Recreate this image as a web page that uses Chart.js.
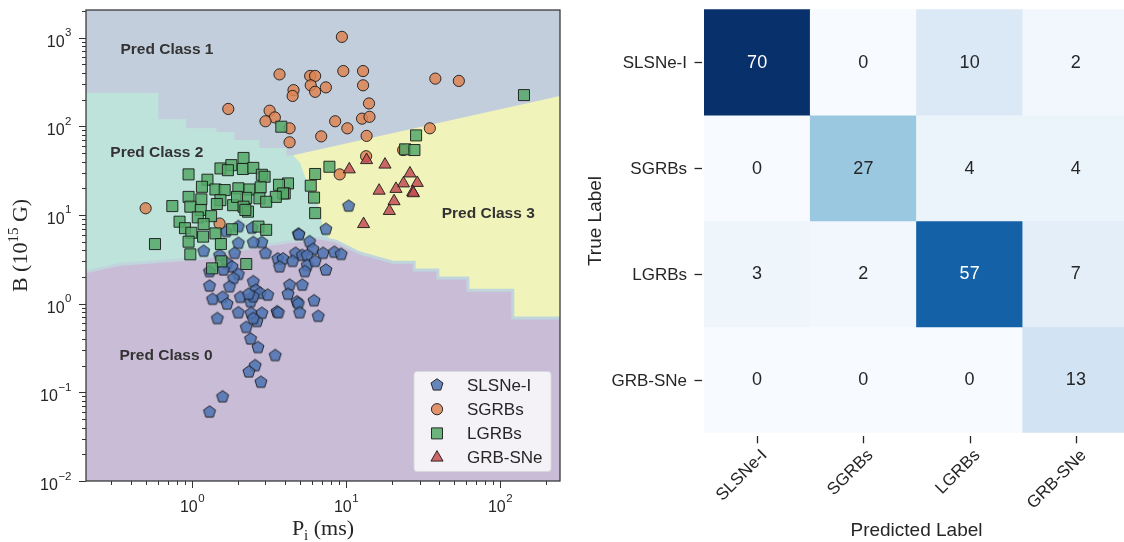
<!DOCTYPE html>
<html>
<head>
<meta charset="utf-8">
<script src="https://cdn.jsdelivr.net/npm/chart.js@4.4.1/dist/chart.umd.min.js"></script>
<style>
  html, body { margin: 0; padding: 0; background: #fff; overflow: hidden; }
  #wrap { position: relative; width: 1124px; height: 542px; overflow: hidden; }
  #left { position: absolute; left: 0; top: 0; }
  #right { position: absolute; left: 580px; top: 0; }
</style>
</head>
<body>
<div id="wrap">
  <canvas id="left" width="580" height="542"></canvas>
  <canvas id="right" width="560" height="542"></canvas>
</div>
<script>
// ---- data ----
const classNames = ["SLSNe-I", "SGRBs", "LGRBs", "GRB-SNe"];

// left panel, [P_i (ms), B (1e15 G)]
const slsnePoints = [
  [10.4, 12.6], [7.4, 6.9], [4.9, 6.1], [4.95, 6.0], [5.8, 5.0], [6.1, 4.1], [7.1, 3.7], [8.4, 3.8],
  [9.3, 3.6], [7.4, 2.4], [4.7, 3.7], [5.2, 3.5], [5.6, 3.5], [3.6, 3.2], [3.9, 3.2], [3.7, 2.6],
  [4.5, 3.0], [5.6, 2.7], [6.3, 3.0], [5.4, 2.3], [3.0, 3.7], [2.84, 4.9], [2.5, 4.9], [2.0, 4.8],
  [1.89, 3.7], [1.19, 3.9], [1.51, 3.5], [1.69, 2.85], [1.82, 2.6], [1.6, 2.4], [2.0, 2.14], [1.86, 1.93],
  [1.3, 1.58], [1.75, 1.55], [2.5, 1.77], [2.6, 1.42], [2.77, 1.31], [3.1, 1.25], [4.3, 1.62], [5.2, 1.62],
  [4.2, 1.28], [4.8, 1.05], [4.9, 1.0], [6.2, 1.08], [1.36, 1.12], [1.58, 1.18], [1.69, 0.99], [2.06, 1.18],
  [2.4, 1.05], [2.5, 1.2], [2.33, 1.28], [2.0, 0.79], [2.42, 0.78], [2.84, 0.78], [2.64, 0.63], [2.5, 0.68],
  [3.56, 0.81], [3.64, 0.79], [5.0, 0.79], [6.6, 0.72], [1.46, 0.68], [2.25, 0.54], [2.4, 0.4], [2.68, 0.32],
  [3.47, 0.26], [2.57, 0.2], [2.34, 0.17], [2.8, 0.13], [1.58, 0.089], [1.3, 0.06], [2.0, 7.4], [2.45, 7.1],
  [1.67, 6.5], [1.3, 2.3]
];
const sgrbPoints = [
  [9.4, 1020], [9.6, 420], [12.9, 420], [12.9, 290], [38, 345], [54, 325], [5.85, 370], [6.3, 370],
  [5.9, 290], [6.3, 245], [7.4, 275], [4.56, 256], [4.5, 220], [3.7, 385], [14.1, 181], [12.7, 122],
  [14.2, 128], [8.5, 114], [10.2, 95], [6.9, 77], [13.6, 78], [4.3, 95], [4.3, 66], [35, 95],
  [23.5, 54], [13.5, 46], [9.1, 28.7], [1.72, 157], [3.19, 150], [3.45, 126], [3.0, 114], [0.5, 11.9],
  [1.51, 8.0]
];
const lgrbPoints = [
  [143, 225], [28.5, 79], [24.2, 55], [27.8, 54], [7.8, 35], [6.3, 29], [5.9, 21.4], [6.2, 15.7],
  [6.3, 10.5], [4.2, 22.7], [4.0, 17.5], [3.8, 99], [2.16, 44], [1.8, 36.5], [2.14, 33], [2.5, 34],
  [1.53, 33.5], [1.71, 32], [0.95, 28.7], [1.26, 25], [2.84, 28.4], [2.96, 27], [3.67, 21.9], [3.9, 17.5],
  [3.5, 16], [1.16, 20.8], [1.42, 19.4], [1.63, 19.1], [2.0, 20], [2.36, 19.4], [2.79, 20.5], [0.95, 16],
  [1.15, 15], [1.53, 14.7], [1.85, 12.9], [2.25, 15.6], [2.74, 15.4], [3.03, 14.1], [1.96, 16], [0.745, 12.6],
  [0.975, 12.4], [1.14, 11.4], [1.45, 13.3], [2.16, 12.4], [2.31, 10.9], [0.83, 8.4], [0.9, 7.1], [1.33, 9.7],
  [1.09, 9.4], [1.19, 7.9], [1.82, 6.9], [2.7, 7.4], [3.03, 6.8], [1.42, 6.2], [1.18, 5.7], [0.99, 6.3],
  [0.575, 4.7], [2.22, 11.4], [0.95, 5.0], [0.975, 3.6], [1.54, 4.7], [1.55, 3.0], [2.25, 2.8], [1.35, 2.5]
];
const grbsnePoints = [
  [13.6, 41.6], [10.5, 32.7], [17.9, 37], [26, 29.4], [23.6, 22.7], [29, 23], [16.4, 18.8],
  [21.1, 19.7], [27.1, 18.1], [27.4, 17.6], [20.5, 14.3], [19.1, 11.1], [13, 7.9]
];

// upper edges of the predicted-class regions (class 1 fills the rest)
const class3Edge = [[4.54, 47.3], [250, 222]];
const class2Edge = [
  [0.2, 237], [0.605, 237], [0.605, 120], [0.918, 120], [0.918, 95], [1.44, 95], [1.44, 86],
  [1.88, 86], [1.88, 70], [2.73, 70], [2.73, 57], [4.09, 57], [4.09, 47], [4.54, 47],
  [5.04, 38.5], [5.43, 26.7], [6.5, 14.7], [7.1, 7.3], [7.89, 5.2], [7.89, 0.01]
];
const class0Edge = [
  [0.2, 2.27], [0.343, 2.79], [1.18, 3.26], [2.5, 4.35], [4.15, 4.95], [6.79, 5.49], [8.63, 5.08],
  [12.3, 3.72], [20.2, 2.94], [27.7, 2.94], [27.7, 2.39], [39.5, 2.39], [39.5, 1.95], [61.9, 1.95],
  [61.9, 1.42], [121, 1.42], [121, 0.69], [250, 0.69]
];
const regionLabels = [
  ["Pred Class 1", 0.343, 733], ["Pred Class 2", 0.295, 50.6],
  ["Pred Class 3", 41.8, 10.4], ["Pred Class 0", 0.338, 0.26]
];
const xExponents = [0, 1, 2];
const yExponents = [-2, -1, 0, 1, 2, 3];

// right panel
const trueLabels = classNames;
const predictedLabels = classNames;
const confusion = [
  [70, 0, 10, 2],
  [0, 27, 4, 4],
  [3, 2, 57, 7],
  [0, 0, 0, 13]
];

// ---- styles ----
const SANS = '"Liberation Sans", Arial, sans-serif';
const SERIF = '"Liberation Serif", "Times New Roman", serif';
const INK = "#262626";
const REGION = ["#c8bcd6", "#c3cedd", "#bee3db", "#f1f4ba"];
const EDGE = "rgba(25,25,25,0.9)";
const MARK = {
  blue: "rgba(76,114,176,0.85)",
  orange: "rgba(221,132,82,0.85)",
  green: "rgba(85,168,104,0.85)",
  red: "rgba(196,78,82,0.85)"
};

function pentagon(fill, edge) {
  const c = document.createElement("canvas");
  c.width = c.height = 16;
  const g = c.getContext("2d");
  const R = 6.3;
  g.beginPath();
  for (let i = 0; i < 5; i++) {
    const t = -Math.PI / 2 + i * 2 * Math.PI / 5;
    g[i ? "lineTo" : "moveTo"](8 + R * Math.cos(t), 8 + R * Math.sin(t));
  }
  g.closePath();
  g.fillStyle = fill; g.fill();
  g.strokeStyle = edge; g.lineWidth = 1; g.stroke();
  return c;
}
const pentImg = pentagon(MARK.blue, EDGE);

const markStyles = [
  { pointStyle: pentImg, radius: 6.3, bg: MARK.blue },
  { pointStyle: "circle", radius: 5.6, bg: MARK.orange },
  { pointStyle: "rect", radius: 7.8, bg: MARK.green },
  { pointStyle: "triangle", radius: 7, bg: MARK.red }
];
const pts = (arr) => arr.map(([x, y]) => ({ x, y }));

function line(ctx, x1, y1, x2, y2) {
  ctx.beginPath(); ctx.moveTo(x1, y1); ctx.lineTo(x2, y2); ctx.stroke();
}

// "10" with a raised exponent, like mathtext
function powLabel(ctx, exp, x, y, align) {
  const e = exp < 0 ? "\u2212" + (-exp) : String(exp);
  ctx.font = "16px " + SANS; const w1 = ctx.measureText("10").width;
  ctx.font = "11.5px " + SANS; const w2 = ctx.measureText(e).width;
  const x0 = align === "center" ? x - (w1 + w2) / 2 : x - w1 - w2 - 0.5;
  ctx.textAlign = "left"; ctx.textBaseline = "alphabetic";
  ctx.font = "16px " + SANS; ctx.fillText("10", x0, y);
  ctx.font = "11.5px " + SANS; ctx.fillText(e, x0 + w1 + 0.5, y - 10.5);
}

// pieces: [text, size, dy]
function mixedText(ctx, parts, cx, y, family) {
  let w = 0;
  parts.forEach(([t, s]) => { ctx.font = s + "px " + family; w += ctx.measureText(t).width; });
  let x = cx - w / 2;
  ctx.textAlign = "left"; ctx.textBaseline = "alphabetic";
  parts.forEach(([t, s, dy]) => {
    ctx.font = s + "px " + family;
    ctx.fillText(t, x, y + dy);
    x += ctx.measureText(t).width;
  });
}

const leftAxes = {
  id: "leftAxes",
  beforeDraw(chart) {
    const { ctx, chartArea: a } = chart;
    ctx.save();
    ctx.fillStyle = REGION[1];
    ctx.fillRect(a.left, a.top, a.right - a.left, a.bottom - a.top);
    ctx.restore();
  },
  afterDatasetsDraw(chart) {
    const { ctx, scales: { x, y } } = chart;
    ctx.save();
    ctx.fillStyle = "#333";
    ctx.font = "bold 15.5px " + SANS;
    ctx.textAlign = "left"; ctx.textBaseline = "middle";
    regionLabels.forEach(([t, px, py]) => ctx.fillText(t, x.getPixelForValue(px), y.getPixelForValue(py)));

    // legend
    const lx = 414, ly = 371.5, lw = 137, lh = 100;
    ctx.beginPath();
    ctx.roundRect(lx, ly, lw, lh, 3);
    ctx.fillStyle = "rgba(255,255,255,0.8)"; ctx.fill();
    ctx.strokeStyle = "rgba(215,215,220,0.9)"; ctx.lineWidth = 1; ctx.stroke();
    classNames.forEach((name, i) => {
      const cy = ly + 13.5 + i * 24.2;
      const m = markStyles[i];
      ctx.fillStyle = m.bg; ctx.strokeStyle = EDGE; ctx.lineWidth = 1;
      Chart.helpers.drawPoint(ctx, { pointStyle: m.pointStyle, radius: m.radius, rotation: 0, borderWidth: 1 }, 437, cy);
      ctx.fillStyle = INK; ctx.font = "17px " + SANS;
      ctx.textAlign = "left"; ctx.textBaseline = "middle";
      ctx.fillText(name, 467, cy + 1);
    });
    ctx.restore();
  },
  afterDraw(chart) {
    const { ctx, chartArea: a, scales: { x, y } } = chart;
    ctx.save();
    ctx.strokeStyle = "#333"; ctx.lineWidth = 1.25;
    ctx.strokeRect(a.left, a.top, a.right - a.left, a.bottom - a.top);

    ctx.lineWidth = 1;
    for (let e = Math.floor(Math.log10(x.min)); e <= Math.ceil(Math.log10(x.max)); e++) {
      for (let k = 1; k <= 9; k++) {
        const v = k * Math.pow(10, e);
        if (v < x.min || v > x.max) continue;
        const px = Math.round(x.getPixelForValue(v)) + 0.5;
        line(ctx, px, a.bottom, px, a.bottom + (k === 1 ? 7 : 4));
      }
    }
    for (let e = Math.floor(Math.log10(y.min)); e <= Math.ceil(Math.log10(y.max)); e++) {
      for (let k = 1; k <= 9; k++) {
        const v = k * Math.pow(10, e);
        if (v < y.min || v > y.max) continue;
        const py = Math.round(y.getPixelForValue(v)) + 0.5;
        line(ctx, a.left, py, a.left - (k === 1 ? 7 : 4), py);
      }
    }

    ctx.fillStyle = INK;
    xExponents.forEach(e => powLabel(ctx, e, x.getPixelForValue(Math.pow(10, e)), a.bottom + 31, "center"));
    yExponents.forEach(e => powLabel(ctx, e, a.left - 14.5, y.getPixelForValue(Math.pow(10, e)) + 9, "right"));

    mixedText(ctx, [["P", 22, 0], ["i", 15, 4.5], [" (ms)", 22, 0]], (a.left + a.right) / 2, 535, SERIF);
    ctx.save();
    ctx.translate(27, (a.top + a.bottom) / 2);
    ctx.rotate(-Math.PI / 2);
    mixedText(ctx, [["B (10", 22, 0], ["15", 15, -9], [" G)", 22, 0]], 0, 0, SERIF);
    ctx.restore();
    ctx.restore();
  }
};

new Chart(document.getElementById("left"), {
  type: "scatter",
  data: {
    datasets: [
      { type: "line", data: pts(class3Edge), fill: "start", backgroundColor: REGION[3], borderWidth: 0, pointRadius: 0, order: 30 },
      { type: "line", data: pts(class2Edge), fill: "start", backgroundColor: REGION[2], borderWidth: 0, pointRadius: 0, order: 20 },
      { type: "line", data: pts(class0Edge), fill: "start", backgroundColor: REGION[0], borderColor: "#c0d6dc", borderWidth: 3, pointRadius: 0, order: 10 },
      { label: classNames[0], data: pts(slsnePoints), pointStyle: pentImg, pointRadius: 6.3, order: 4 },
      { label: classNames[1], data: pts(sgrbPoints), pointStyle: "circle", pointRadius: 5.6, backgroundColor: MARK.orange, borderColor: EDGE, borderWidth: 1, order: 3 },
      { label: classNames[2], data: pts(lgrbPoints), pointStyle: "rect", pointRadius: 7.8, backgroundColor: MARK.green, borderColor: EDGE, borderWidth: 1, order: 2 },
      { label: classNames[3], data: pts(grbsnePoints), pointStyle: "triangle", pointRadius: 7, backgroundColor: MARK.red, borderColor: EDGE, borderWidth: 1, order: 1 }
    ]
  },
  options: {
    responsive: false,
    animation: false,
    events: [],
    layout: { padding: { left: 86, right: 20, top: 10, bottom: 61 } },
    elements: { line: { tension: 0 } },
    scales: {
      x: { type: "logarithmic", min: 0.205, max: 245, display: false },
      y: { type: "logarithmic", min: 0.01, max: 2050, display: false }
    },
    plugins: { legend: { display: false }, tooltip: { enabled: false } }
  },
  plugins: [leftAxes]
});

// ---- confusion matrix ----
const BLUES = ["#f7fbff", "#deebf7", "#c6dbef", "#9ecae1", "#6baed6", "#4292c6", "#2171b5", "#08519c", "#08306b"];
const hexRgb = h => [1, 3, 5].map(i => parseInt(h.slice(i, i + 2), 16));
function blues(t) {
  const s = Math.min(Math.max(t, 0), 1) * 8;
  const i = Math.min(Math.floor(s), 7), f = s - i;
  const a = hexRgb(BLUES[i]), b = hexRgb(BLUES[i + 1]);
  return a.map((v, k) => Math.round(v + (b[k] - v) * f));
}
const rgbStr = c => `rgb(${c[0]},${c[1]},${c[2]})`;
function luminance(c) {
  const l = c.map(v => { v /= 255; return v <= 0.03928 ? v / 12.92 : Math.pow((v + 0.055) / 1.055, 2.4); });
  return 0.2126 * l[0] + 0.7152 * l[1] + 0.0722 * l[2];
}
const maxCount = Math.max(...confusion.flat());

const heatText = {
  id: "heatText",
  afterDraw(chart) {
    const { ctx, chartArea: a, scales: { x, y } } = chart;
    ctx.save();
    ctx.textAlign = "center"; ctx.textBaseline = "middle";
    ctx.font = "18px " + SANS;
    confusion.forEach((row, r) => row.forEach((v, c) => {
      ctx.fillStyle = luminance(blues(v / maxCount)) > 0.408 ? INK : "#ffffff";
      ctx.fillText(String(v), x.getPixelForValue(c), y.getPixelForValue(r) + 0.5);
    }));

    ctx.strokeStyle = INK; ctx.lineWidth = 1.3; ctx.fillStyle = INK;
    ctx.font = "17px " + SANS;
    trueLabels.forEach((t, r) => {
      const py = Math.round(y.getPixelForValue(r)) + 0.5;
      line(ctx, a.left - 9.5, py, a.left - 2, py);
      ctx.textAlign = "right"; ctx.textBaseline = "middle";
      ctx.fillText(t, a.left - 17, py + 0.5);
    });
    predictedLabels.forEach((t, c) => {
      const px = Math.round(x.getPixelForValue(c)) + 0.5;
      line(ctx, px, a.bottom + 3.3, px, a.bottom + 10.6);
      ctx.save();
      ctx.translate(px + 1, a.bottom + 14);
      ctx.rotate(-Math.PI / 4);
      ctx.textAlign = "right"; ctx.textBaseline = "top";
      ctx.fillText(t, 0, 0);
      ctx.restore();
    });

    ctx.font = "19px " + SANS;
    ctx.textAlign = "center"; ctx.textBaseline = "alphabetic";
    ctx.fillText("Predicted Label", (a.left + a.right) / 2, 536);
    ctx.save();
    ctx.translate(21, (a.top + a.bottom) / 2);
    ctx.rotate(-Math.PI / 2);
    ctx.fillText("True Label", 0, 0);
    ctx.restore();
    ctx.restore();
  }
};

new Chart(document.getElementById("right"), {
  type: "bar",
  data: {
    labels: predictedLabels,
    datasets: trueLabels.map((name, r) => ({
      label: name,
      data: predictedLabels.map(() => [r - 0.5, r + 0.5]),
      backgroundColor: confusion[r].map(v => rgbStr(blues(v / maxCount))),
      borderWidth: 0,
      barPercentage: 1,
      categoryPercentage: 1,
      grouped: false
    }))
  },
  options: {
    responsive: false,
    animation: false,
    events: [],
    layout: { padding: { left: 124, right: 11, top: 9.3, bottom: 109.3 } },
    scales: {
      x: { display: false },
      y: { display: false, min: -0.5, max: 3.5, reverse: true }
    },
    plugins: { legend: { display: false }, tooltip: { enabled: false } }
  },
  plugins: [heatText]
});
</script>
</body>
</html>
